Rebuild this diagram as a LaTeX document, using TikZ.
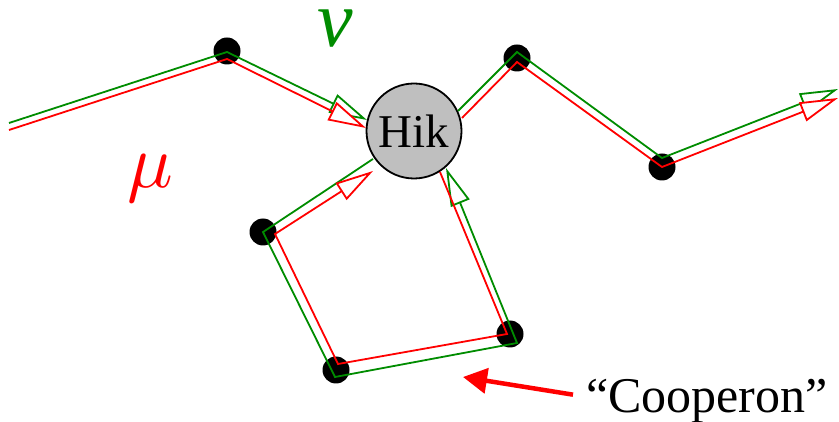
\documentclass[tikz,border=0pt]{standalone}
\usepackage{fontspec}
\setmainfont{Liberation Serif}
\usepackage{xcolor}
\usetikzlibrary{arrows.meta}
\definecolor{nugreen}{RGB}{0,140,0}
\definecolor{mured}{RGB}{255,0,0}

\begin{document}
\begin{tikzpicture}[
  x=1pt, y=-1pt,
  dot/.style={circle, fill=black, inner sep=0pt, minimum size=27pt},
  hik/.style={circle, draw, line width=1.8pt, fill=black!25, minimum size=95pt,
              inner sep=0pt, font=\fontsize{47}{50}\selectfont},
  nuline/.style={draw=nugreen, line width=1.8pt},
  muline/.style={draw=mured, line width=1.8pt},
  opentip/.style={-{Triangle[length=38pt, width=20pt, fill=white]}},
  pointer/.style={draw=mured, line width=4.5pt, -{Triangle[length=24pt, width=25pt]}},
  greek/.style={inner sep=0pt}
]
\useasboundingbox (0,0) rectangle (839,422);

\node[hik] (hik) at (414,131) {Hik};
\node[dot] (dA) at (227,51) {};
\node[dot] (dB) at (517,58) {};
\node[dot] (dC) at (662,167) {};
\node[dot] (dD) at (263,232) {};
\node[dot] (dE) at (510,334) {};
\node[dot] (dF) at (336,370) {};

% nu (green) line
\coordinate (nIn)  at (9,123);
\coordinate (nA)   at (227,52);
\coordinate (nH1)  at (367,120);
\coordinate (nH2)  at (458,111);
\coordinate (nB)   at (517,52);
\coordinate (nC)   at (662,158);
\coordinate (nOut) at (838,89);
\coordinate (nH3)  at (373,159);
\coordinate (nD)   at (263,232);
\coordinate (nF)   at (335,377);
\coordinate (nE)   at (517,343);
\coordinate (nH4)  at (446,168);

% mu (red) line
\coordinate (mIn)  at (9,130);
\coordinate (mA)   at (227,59);
\coordinate (mH1)  at (366,128);
\coordinate (mH2)  at (462,118);
\coordinate (mB)   at (517,62);
\coordinate (mC)   at (662,167);
\coordinate (mOut) at (838,98);
\coordinate (mH3)  at (440,172);
\coordinate (mE)   at (507,334);
\coordinate (mF)   at (338,364);
\coordinate (mD)   at (275,234);
\coordinate (mH4)  at (373,171);

\draw[nuline, opentip] (nIn) -- (nA) -- (nH1);
\draw[nuline, opentip] (nH2) -- (nB) -- (nC) -- (nOut);
\draw[nuline, opentip] (nH3) -- (nD) -- (nF) -- (nE) -- (nH4);

\draw[muline, opentip] (mIn) -- (mA) -- (mH1);
\draw[muline, opentip] (mH2) -- (mB) -- (mC) -- (mOut);
\draw[muline, opentip] (mH3) -- (mE) -- (mF) -- (mD) -- (mH4);

\node[greek, scale=7.6, text=mured] (mu) at (150,179) {$\mu$};
\node[greek, font=\fontsize{80}{80}\selectfont\itshape, text=nugreen] (nu) at (335,29) {ν};

\node[font=\fontsize{50}{58}\selectfont, anchor=base west, inner sep=0pt] (coop) at (586,413) {“Cooperon”};
\coordinate (coopTip) at (463,377);
\draw[pointer] ([xshift=-13pt, yshift=7pt]coop.west) -- (coopTip);
\end{tikzpicture}
\end{document}
